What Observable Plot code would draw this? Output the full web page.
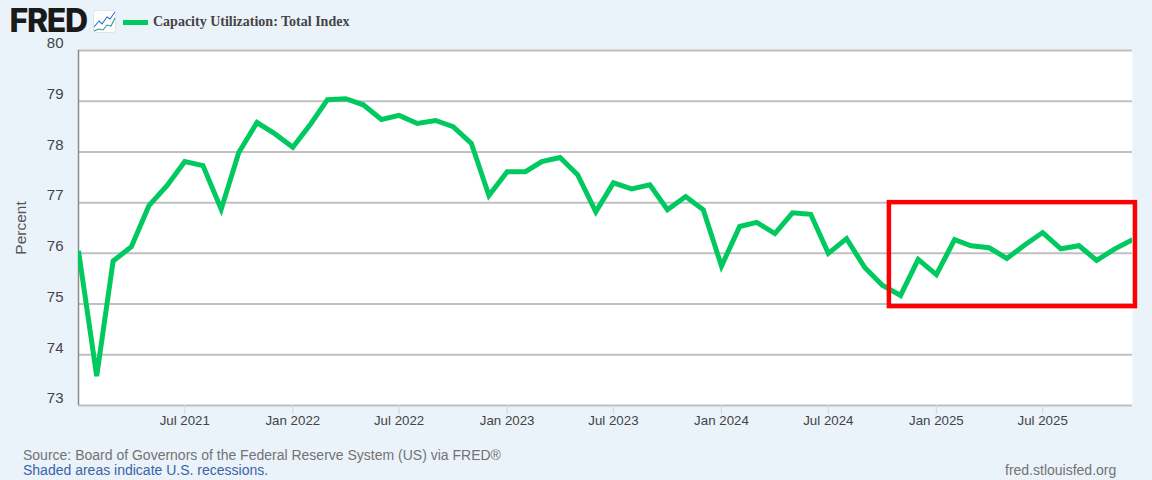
<!DOCTYPE html>
<html>
<head>
<meta charset="utf-8">
<title>Capacity Utilization: Total Index</title>
<script src="https://cdn.jsdelivr.net/npm/d3@7"></script>
<script src="https://cdn.jsdelivr.net/npm/@observablehq/plot@0.6"></script>
<style>
  html, body { margin: 0; padding: 0; background: #eaf2fa; width: 1152px; height: 480px; overflow: hidden; }
  #wrap { position: relative; width: 1152px; height: 480px; font-family: "Liberation Sans", Arial, sans-serif; }
  #chart { position: absolute; left: 0; top: 0; }
  .abs { position: absolute; white-space: nowrap; }
  #logo { left: 9.5px; top: 9px; font: 800 32px/24px Inter, "Liberation Sans", sans-serif; letter-spacing: -1.3px; color: #1a1a1a; }
  #icon { left: 93px; top: 10px; }
  #swatch { left: 123px; top: 19.5px; width: 25px; height: 5.5px; background: #00c95f; }
  #legend { left: 153px; top: 13px; font: bold 14px/17px "Liberation Serif", serif; color: #444; }
  #source { left: 23px; top: 447px; font-size: 14px; line-height: 16px; color: #737373; }
  #shaded { left: 23px; top: 462px; font-size: 14px; line-height: 16px; color: #3b64a6; }
  #site { left: 1005px; top: 462px; font-size: 14px; line-height: 16px; color: #737373; }
</style>
</head>
<body>
<div id="wrap">
  <div id="chart"></div>
  <div class="abs" id="logo">FRED</div>
  <svg class="abs" id="icon" width="23" height="23" viewBox="0 0 23 23">
    <rect x="0.5" y="0.5" width="22" height="22" rx="2" fill="#fff" stroke="#dfe5ec"/>
    <polyline points="1,17 6,11 9,14 14,7 17,9 22,2" fill="none" stroke="#2d6fd0" stroke-width="1.1"/>
    <polyline points="1,21 6,19 10,20 14,15 18,16 22,8" fill="none" stroke="#2a9d8f" stroke-width="1.1"/>
  </svg>
  <div class="abs" id="swatch"></div>
  <div class="abs" id="legend">Capacity Utilization: Total Index</div>
  <div class="abs" id="source">Source: Board of Governors of the Federal Reserve System (US) via FRED®</div>
  <div class="abs" id="shaded">Shaded areas indicate U.S. recessions.</div>
  <div class="abs" id="site">fred.stlouisfed.org</div>
</div>
<script>
const months = [
  "2021-01","2021-02","2021-03","2021-04","2021-05","2021-06","2021-07","2021-08","2021-09","2021-10","2021-11","2021-12",
  "2022-01","2022-02","2022-03","2022-04","2022-05","2022-06","2022-07","2022-08","2022-09","2022-10","2022-11","2022-12",
  "2023-01","2023-02","2023-03","2023-04","2023-05","2023-06","2023-07","2023-08","2023-09","2023-10","2023-11","2023-12",
  "2024-01","2024-02","2024-03","2024-04","2024-05","2024-06","2024-07","2024-08","2024-09","2024-10","2024-11","2024-12",
  "2025-01","2025-02","2025-03","2025-04","2025-05","2025-06","2025-07","2025-08","2025-09","2025-10","2025-11","2025-12"
];
const capacity = [
  76.05,73.58,75.85,76.13,76.94,77.34,77.81,77.73,76.87,77.99,78.58,78.36,
  78.09,78.56,79.03,79.05,78.93,78.64,78.72,78.56,78.62,78.50,78.17,77.14,
  77.61,77.61,77.81,77.89,77.55,76.82,77.39,77.27,77.35,76.86,77.12,76.86,
  75.75,76.53,76.61,76.39,76.80,76.77,76.00,76.29,75.72,75.37,75.17,75.88,
  75.58,76.27,76.15,76.11,75.90,76.17,76.41,76.09,76.15,75.86,76.09,76.27
];
const yTicks = [73,74,75,76,77,78,79,80];
const xTicks = ["2021-07","2022-01","2022-07","2023-01","2023-07","2024-01","2024-07","2025-01","2025-07"];
const highlightX = ["2024-10-13","2025-12-06"];
const highlightY = [74.95,77.0];

const d = s => new Date(s.length === 7 ? s + "-01" : s);
const series = months.map((m, i) => ({date: d(m), value: capacity[i]}));
const xDomain = [d(months[0]), d(months[months.length - 1])];
const tickColor = "#444";

const plot = Plot.plot({
  width: 1152,
  height: 480,
  marginLeft: 78,
  marginRight: 20,
  marginTop: 50,
  marginBottom: 75,
  style: {background: "transparent", fontFamily: "'Liberation Sans', Arial, sans-serif"},
  x: {type: "utc", domain: xDomain},
  y: {domain: [73, 80]},
  marks: [
    Plot.frame({fill: "#fff", stroke: null}),
    Plot.ruleY(yTicks, {stroke: "#c0c0c0", strokeWidth: 2, strokeOpacity: 1}),
    Plot.ruleX([xDomain[0]], {stroke: "#8c8c8c", strokeWidth: 1.5, strokeOpacity: 1}),
    Plot.axisY({
      ticks: yTicks,
      tickFormat: "d",
      tickSize: 0,
      tickPadding: 15,
      dy: -7,
      fontSize: 15,
      color: tickColor,
      label: null
    }),
    Plot.text(["Percent"], {
      frameAnchor: "left",
      textAnchor: "middle",
      dx: -57,
      rotate: -90,
      fontSize: 15.5,
      fill: "#555"
    }),
    Plot.axisX({
      ticks: xTicks.map(d),
      tickFormat: t => d3.utcFormat("%b %Y")(t),
      tickSize: 9,
      tickPadding: 1,
      stroke: "#ccd6eb",
      strokeOpacity: 1,
      tickColor: "#ccd6eb",
      fontSize: 13.3,
      label: null,
      color: tickColor
    }),
    Plot.line(series, {
      x: "date", y: "value",
      stroke: "#00c95f",
      strokeWidth: 5,
      strokeLinejoin: "miter",
      strokeMiterlimit: 4,
      strokeLinecap: "butt",
      clip: "frame"
    }),
    Plot.rect([{x1: d(highlightX[0]), x2: d(highlightX[1]), y1: highlightY[0], y2: highlightY[1]}], {
      x1: "x1", x2: "x2", y1: "y1", y2: "y2",
      fill: "none",
      stroke: "#ff0000",
      strokeWidth: 4.5
    })
  ]
});
document.getElementById("chart").appendChild(plot);
</script>
</body>
</html>
